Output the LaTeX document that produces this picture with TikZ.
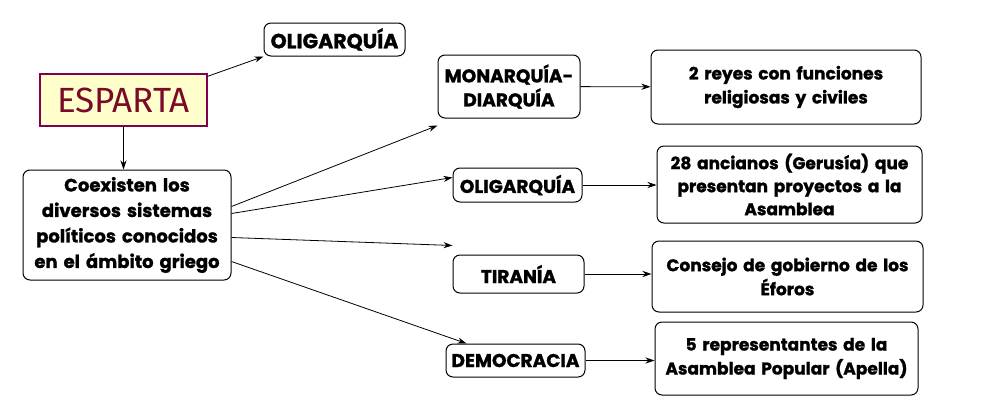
\documentclass[tikz,border=0pt]{standalone}
\usepackage{fontspec}
\setmainfont{Poppins}[BoldFont={* Bold}, BoldFeatures={FakeBold=1.2}]
\newfontfamily\titlefont{Fira Sans}
\usetikzlibrary{arrows.meta}
\definecolor{paleyellow}{HTML}{FFFFCC}
\definecolor{plum}{HTML}{800050}
\definecolor{wine}{HTML}{7A0A28}
\tikzset{
  box/.style={draw=black, line width=1pt, rounded corners=7pt, align=center, font=\bfseries\fontsize{18.5}{24}\selectfont, inner sep=0pt},
  textbox/.style={box, font=\bfseries\fontsize{17}{24}\selectfont},
  link/.style={-{Stealth[length=9pt,width=6pt]}, black, line width=0.8pt}
}

\begin{document}
\begin{tikzpicture}[x=1pt,y=-1pt]
  \useasboundingbox[fill=white] (0,0) rectangle (1000,418);

  \node[draw=plum, fill=paleyellow, line width=1.4pt, minimum width=167pt, minimum height=52pt, font=\titlefont\fontsize{35}{35}\selectfont, text=wine] (esparta) at (123.5,100) {ESPARTA};
  \node[box, minimum width=141pt, minimum height=33pt, font=\bfseries\fontsize{20.5}{24}\selectfont] (oligtop) at (334.5,39.5) {OLIGARQUÍA};
  \node[box, minimum width=208pt, minimum height=110pt, text width=204pt, font=\bfseries\fontsize{18}{25.5}\selectfont] (centro) at (127,225) {Coexisten los\\diversos sistemas\\políticos conocidos\\en el ámbito griego};

  \node[box, minimum width=142pt, minimum height=63pt] (mon) at (509,86.5) {MONARQUÍA-\\DIARQUÍA};
  \node[box, minimum width=129pt, minimum height=34pt] (olig) at (517.5,185) {OLIGARQUÍA};
  \node[box, minimum width=131pt, minimum height=38pt] (tir) at (518.5,274) {TIRANÍA};
  \node[box, minimum width=139pt, minimum height=33pt] (dem) at (515.5,360.5) {DEMOCRACIA};

  \node[textbox, minimum width=270pt, minimum height=74pt, text width=266pt] (reyes) at (786,87) {2 reyes con funciones\\religiosas y civiles};
  \node[textbox, minimum width=265pt, minimum height=77pt, text width=261pt, font=\bfseries\fontsize{17}{23}\selectfont] (ancianos) at (789.5,184.5) {28 ancianos (Gerusía) que\\presentan proyectos a la\\Asamblea};
  \node[textbox, minimum width=271pt, minimum height=71pt, text width=267pt] (consejo) at (787.5,276.5) {Consejo de gobierno de los\\Éforos};
  \node[textbox, minimum width=263pt, minimum height=73pt, text width=259pt] (repres) at (786.5,358.5) {5 representantes de la\\Asamblea Popular (Apella)};

  \draw[link] (esparta.north east) ++(0,3) -- (oligtop.south west);
  \draw[link] (esparta.south) -- (centro.north -| esparta.south);

  \draw[link] ([yshift=-37pt]centro.north east) -- ([yshift=-7pt]mon.south west);
  \draw[link] ([yshift=-44pt]centro.north east) -- ([yshift=-10pt]olig.north west);
  \draw[link] ([yshift=-68pt]centro.north east) -- ([yshift=9pt]tir.north west);
  \draw[link] ([yshift=-92pt]centro.north east) -- ([xshift=21pt]dem.north west);

  \draw[link] (mon) -- (reyes);
  \draw[link] (olig) -- (olig -| ancianos.west);
  \draw[link] (tir) -- (tir -| consejo.west);
  \draw[link] (dem) -- (dem -| repres.west);
\end{tikzpicture}
\end{document}
